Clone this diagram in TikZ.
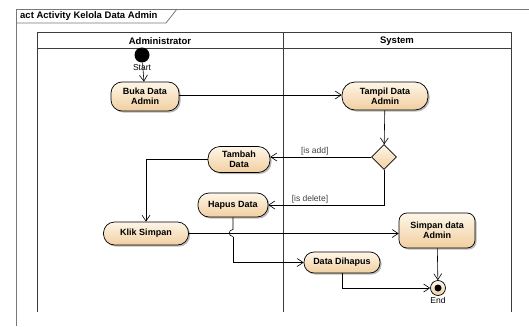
\documentclass[tikz,border=0pt]{standalone}
\usepackage{fontspec}
\setmainfont{Liberation Sans}
\usetikzlibrary{arrows.meta,shapes.geometric,shadows,calc}
\definecolor{nodetop}{RGB}{254,246,232}
\definecolor{nodebot}{RGB}{241,207,160}
\definecolor{frameg}{RGB}{120,120,120}
\definecolor{lanec}{RGB}{60,60,60}
\tikzset{
  act/.style={draw=black, line width=0.7pt, top color=nodetop, bottom color=nodebot,
    rounded corners=11pt, align=center, inner sep=1pt,
    font=\fontsize{9}{10}\selectfont\bfseries,
    drop shadow={shadow xshift=1.6pt, shadow yshift=-1.6pt, fill=black!45, opacity=0.6}},
  flow/.style={draw=black, line width=0.6pt, -{Straight Barb[length=6pt,width=8pt]}},
  plain/.style={draw=black, line width=0.6pt},
  guard/.style={font=\fontsize{8.5}{9.5}\selectfont, text=black!75, inner sep=1.5pt},
  lbl/.style={font=\fontsize{8.5}{9.5}\selectfont, inner sep=0pt},
  hdr/.style={font=\fontsize{9.5}{10.5}\selectfont\bfseries, inner sep=0pt},
}
\begin{document}
\begin{tikzpicture}[x=1pt,y=-1pt]
\useasboundingbox (0,0) rectangle (529,326);
% frame
\draw[frameg, line width=0.8pt] (16,326) -- (16,9) -- (529,9);
\draw[frameg, line width=0.8pt] (16,23) -- (166,23) -- (177,9);
\node[hdr, anchor=west] (title) at (20,16) {act Activity Kelola Data Admin};
% swimlanes
\draw[lanec, line width=1pt] (37,312) -- (37,33) -- (511,33) -- (511,312);
\draw[lanec, line width=1pt] (37,49) -- (511,49);
\draw[lanec, line width=1pt] (283,33) -- (283,312);
\node[hdr] (lane1) at (160,41) {Administrator};
\node[hdr] (lane2) at (397,41) {System};
% nodes
\node[circle, fill=black, minimum size=15pt, inner sep=0pt] (start) at (142,55) {};
\node[lbl, fill=white, fill opacity=0.6, text opacity=1] (startlbl) at (142,67.5) {Start};
\node[act, minimum width=68pt, minimum height=29pt] (buka) at (145,96.5) {Buka Data\\Admin};
\node[act, minimum width=86pt, minimum height=28pt, rounded corners=13pt] (tampil) at (385,96) {Tampil Data\\Admin};
\node[diamond, draw=black, line width=0.7pt, top color=nodetop, bottom color=nodebot,
  minimum width=25pt, minimum height=25pt, inner sep=0pt] (dec) at (384,157) {};
\node[act, minimum width=62pt, minimum height=26pt, rounded corners=12pt] (tambah) at (239,159.5) {Tambah\\Data};
\node[act, minimum width=70pt, minimum height=24pt] (hapus) at (233,205) {Hapus Data};
\node[act, minimum width=85pt, minimum height=23pt] (klik) at (146,233.5) {Klik Simpan};
\node[act, minimum width=76pt, minimum height=35pt, rounded corners=8pt] (simpan) at (437,230.5) {Simpan data\\Admin};
\node[act, minimum width=76pt, minimum height=21pt, rounded corners=10pt] (dihapus) at (342,262.5) {Data Dihapus};
\node[circle, draw=black, line width=0.7pt, top color=nodetop, bottom color=nodebot,
  minimum size=15pt, inner sep=0pt] (end) at (438,288) {};
\node[circle, fill=black, minimum size=7pt, inner sep=0pt] (enddot) at (end) {};
\node[lbl] (endlbl) at (438,300.5) {End};
% flows
\draw[flow] (start) -- (buka);
\draw[flow] (buka.east |- 0,95) -- (tampil.west |- 0,95);
\draw[flow] (tampil) -- (dec);
\draw[flow] (dec.west) -- (dec.west -| tambah.east) node[guard, pos=0.56, above] (g1) {[is add]};
\draw[flow] (dec.south) |- (hapus.east) node[guard, pos=0.82, above] (g2) {[is delete]};
\draw[flow] (tambah.west) -| (klik.north);
\draw[flow] (klik.east) -- (klik.east -| simpan.west);
\draw[plain] (hapus.south) -- (233,229.5) .. controls (228,229.5) and (228,236.5) .. (233,236.5)
  coordinate (hopend);
\draw[flow] (hopend) |- (dihapus.west);
\draw[flow] (simpan) -- (end);
\draw[flow] (dihapus.south) |- (end.west);
\end{tikzpicture}
\end{document}
